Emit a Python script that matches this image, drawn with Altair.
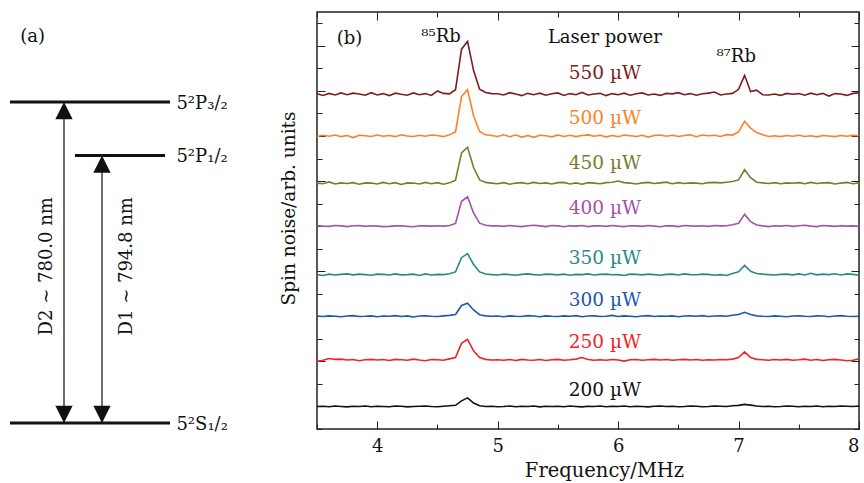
import altair as alt
import pandas as pd

# ---------------- panel (b): spin-noise spectra ----------------
freq = [3.50, 3.55, 3.60, 3.65, 3.70, 3.75, 3.80, 3.85, 3.90, 3.95,
        4.00, 4.05, 4.10, 4.15, 4.20, 4.25, 4.30, 4.35, 4.40, 4.45,
        4.50, 4.55, 4.60, 4.65, 4.70, 4.75, 4.80, 4.85, 4.90, 4.95,
        5.00, 5.05, 5.10, 5.15, 5.20, 5.25, 5.30, 5.35, 5.40, 5.45,
        5.50, 5.55, 5.60, 5.65, 5.70, 5.75, 5.80, 5.85, 5.90, 5.95,
        6.00, 6.05, 6.10, 6.15, 6.20, 6.25, 6.30, 6.35, 6.40, 6.45,
        6.50, 6.55, 6.60, 6.65, 6.70, 6.75, 6.80, 6.85, 6.90, 6.95,
        7.00, 7.05, 7.10, 7.15, 7.20, 7.25, 7.30, 7.35, 7.40, 7.45,
        7.50, 7.55, 7.60, 7.65, 7.70, 7.75, 7.80, 7.85, 7.90, 7.95,
        8.00]

powers = ["550 µW", "500 µW", "450 µW", "400 µW", "350 µW", "300 µW", "250 µW", "200 µW"]
colors = ["#7c1d22", "#ff7f2a", "#7b7b30", "#a452aa", "#2a8a80", "#2256b0", "#f02424", "#111111"]
offsets = [14.85, 13.0, 10.9, 9.0, 6.85, 5.0, 3.05, 1.0]
label_y = [15.54, 13.55, 11.55, 9.55, 7.33, 5.46, 3.61, 1.45]
label_x = 5.89

sig550 = [0.02, -0.05, 0.04, -0.03, 0.06, -0.02, 0.05, 0.01, -0.04, 0.07,
          -0.03, 0.03, -0.06, 0.05, 0.00, -0.04, 0.06, -0.02, 0.03, -0.05,
          0.15, 0.04, 0.02, 0.20, 2.00, 2.35, 1.05, 0.22, 0.08, 0.03,
          0.02, -0.03, 0.07, 0.01, -0.06, 0.04, -0.02, 0.05, -0.04, 0.02,
          0.06, -0.05, 0.03, -0.02, 0.08, -0.03, 0.01, 0.04, -0.06, 0.03,
          -0.02, 0.05, -0.04, 0.02, 0.06, -0.03, 0.01, -0.05, 0.04, 0.02,
          0.07, -0.02, 0.03, -0.04, 0.02, 0.05, 0.10, -0.03, 0.01, 0.04,
          0.22, 0.84, 0.12, 0.18, -0.02, -0.03, 0.01, -0.05, 0.04, 0.00,
          0.03, -0.04, 0.05, -0.02, 0.04, -0.08, 0.03, 0.01, -0.05, 0.04,
          0.06]
sig500 = [-0.02, 0.03, -0.01, 0.04, -0.03, 0.02, -0.07, 0.03, 0.01, -0.02,
          0.04, -0.01, 0.02, -0.03, 0.05, 0.00, -0.02, 0.03, -0.01, 0.04,
          0.02, -0.03, 0.05, 0.18, 1.75, 2.05, 0.90, 0.20, 0.05, 0.02,
          -0.02, 0.05, -0.03, 0.04, -0.05, 0.02, -0.06, 0.03, 0.01, -0.04,
          0.04, -0.02, 0.03, -0.03, 0.02, 0.05, -0.01, 0.03, -0.04, 0.02,
          -0.03, 0.04, 0.01, -0.02, 0.03, -0.05, 0.02, 0.04, -0.01, 0.03,
          -0.02, 0.02, 0.05, -0.03, 0.04, 0.01, 0.03, -0.02, 0.06, 0.04,
          0.18, 0.65, 0.35, 0.15, 0.05, -0.02, 0.01, -0.03, 0.02, -0.01,
          0.03, -0.02, 0.01, -0.04, 0.02, 0.00, -0.03, 0.02, -0.01, 0.03,
          0.01]
sig450 = [0.01, -0.02, 0.06, -0.03, 0.02, -0.01, 0.03, -0.04, 0.02, 0.01,
          -0.03, 0.04, -0.02, 0.03, -0.05, 0.02, 0.01, -0.03, 0.04, -0.02,
          0.03, -0.04, 0.02, 0.14, 1.35, 1.60, 0.70, 0.15, 0.04, 0.01,
          -0.02, 0.03, -0.04, 0.01, 0.03, -0.02, 0.04, -0.01, 0.02, -0.03,
          0.03, 0.04, -0.03, 0.02, -0.04, 0.03, 0.01, -0.02, 0.03, 0.05,
          0.10, 0.03, 0.01, -0.03, 0.02, 0.04, -0.01, 0.02, 0.05, -0.02,
          0.03, -0.01, 0.02, 0.01, -0.02, 0.03, 0.04, 0.02, 0.05, 0.08,
          0.15, 0.60, 0.25, 0.05, 0.02, -0.01, 0.03, -0.02, 0.02, 0.00,
          0.03, -0.02, 0.04, -0.01, 0.02, 0.03, -0.03, 0.01, 0.04, -0.02,
          0.02]
sig400 = [0.02, 0.00, -0.01, 0.03, 0.01, -0.02, 0.02, 0.03, -0.01, 0.02,
          0.00, -0.02, -0.01, 0.01, 0.02, -0.01, -0.03, 0.02, 0.01, 0.00,
          0.02, 0.00, 0.03, 0.12, 1.10, 1.30, 0.58, 0.13, 0.04, 0.01,
          0.02, -0.01, 0.03, 0.00, -0.02, 0.02, 0.04, 0.01, -0.02, 0.03,
          0.01, -0.03, 0.02, 0.00, 0.03, -0.02, 0.01, 0.02, -0.01, 0.03,
          0.00, -0.02, 0.02, 0.01, -0.01, 0.03, 0.00, -0.03, 0.02, 0.01,
          -0.02, 0.03, 0.01, 0.00, 0.02, -0.01, 0.03, 0.01, 0.02, 0.06,
          0.13, 0.52, 0.20, 0.05, 0.01, -0.02, 0.02, 0.00, 0.03, -0.01,
          0.02, 0.04, 0.00, -0.02, 0.03, 0.01, -0.01, 0.02, 0.00, 0.01,
          -0.01]
sig350 = [0.00, -0.04, 0.02, -0.02, 0.01, 0.03, -0.01, 0.02, 0.00, -0.03,
          0.02, 0.01, -0.02, 0.03, -0.01, 0.00, 0.02, -0.04, 0.03, -0.02,
          0.01, 0.00, 0.04, 0.12, 0.75, 0.93, 0.45, 0.12, 0.03, 0.00,
          -0.02, 0.02, 0.00, -0.03, 0.01, 0.03, 0.00, -0.02, 0.02, 0.01,
          -0.01, 0.02, -0.03, 0.01, 0.00, 0.03, -0.02, 0.01, 0.02, -0.01,
          0.00, -0.04, 0.02, 0.01, -0.01, 0.02, 0.00, -0.03, 0.01, 0.02,
          -0.02, 0.03, 0.00, -0.01, 0.02, 0.01, -0.03, 0.00, -0.04, 0.05,
          0.12, 0.41, 0.15, 0.05, 0.02, 0.00, -0.02, 0.01, 0.02, -0.01,
          0.03, -0.02, 0.06, -0.01, 0.02, 0.00, 0.04, -0.02, 0.03, 0.01,
          -0.03]
sig300 = [0.01, -0.01, 0.02, 0.00, -0.02, 0.01, 0.03, -0.01, 0.00, 0.02,
          -0.02, 0.01, 0.00, 0.03, -0.01, 0.02, -0.03, 0.01, 0.02, 0.00,
          -0.01, 0.02, 0.04, 0.08, 0.48, 0.58, 0.28, 0.07, 0.02, 0.00,
          0.01, -0.02, 0.02, 0.00, -0.01, 0.03, 0.01, -0.02, 0.02, 0.00,
          -0.01, 0.02, 0.00, 0.03, -0.02, 0.01, 0.02, -0.01, 0.00, 0.04,
          -0.01, 0.02, 0.00, -0.02, 0.01, 0.03, -0.01, 0.01, 0.00, 0.02,
          -0.02, 0.01, 0.02, 0.00, 0.03, -0.01, 0.01, 0.02, 0.00, 0.05,
          0.08, 0.18, 0.08, 0.02, 0.00, -0.01, 0.02, 0.00, -0.02, 0.01,
          0.02, 0.00, -0.01, 0.02, 0.01, -0.02, 0.01, 0.03, 0.00, -0.01,
          0.00]
sig250 = [-0.05, 0.00, 0.08, 0.04, 0.05, 0.01, 0.03, -0.02, 0.02, 0.04,
          0.01, 0.03, -0.01, 0.04, 0.02, 0.00, 0.05, 0.01, -0.02, 0.03,
          0.02, 0.00, 0.06, 0.12, 0.75, 0.93, 0.42, 0.12, 0.04, 0.01,
          0.02, 0.00, 0.03, -0.01, 0.04, 0.01, 0.00, 0.03, -0.01, 0.02,
          0.04, 0.00, 0.02, 0.05, 0.12, 0.03, 0.00, 0.02, 0.00, 0.03,
          0.01, -0.04, 0.02, 0.03, 0.00, 0.02, 0.04, 0.01, 0.03, 0.00,
          0.02, 0.04, 0.01, 0.03, 0.00, 0.02, 0.01, 0.03, 0.02, 0.05,
          0.12, 0.37, 0.12, 0.04, 0.02, 0.00, 0.03, 0.01, 0.04, 0.00,
          0.02, 0.05, 0.00, 0.03, -0.01, 0.02, 0.04, 0.01, -0.02, 0.00,
          0.06]
sig200 = [0.00, 0.01, -0.01, 0.02, 0.00, -0.02, 0.01, 0.00, 0.02, -0.01,
          0.01, 0.00, -0.01, 0.02, 0.01, -0.02, 0.00, 0.01, 0.02, 0.00,
          -0.01, 0.01, 0.03, 0.05, 0.25, 0.38, 0.15, 0.03, 0.00, 0.01,
          -0.01, 0.00, 0.02, -0.01, 0.01, 0.00, 0.02, -0.02, 0.01, 0.00,
          0.01, -0.01, 0.02, 0.00, -0.02, 0.01, 0.00, 0.02, -0.01, 0.01,
          0.00, 0.02, -0.01, 0.01, 0.00, -0.02, 0.01, 0.02, 0.00, 0.01,
          -0.01, 0.00, 0.02, 0.01, -0.01, 0.00, 0.02, 0.01, 0.00, 0.03,
          0.05, 0.09, 0.06, 0.02, 0.00, 0.01, -0.01, 0.00, 0.02, 0.01,
          -0.01, 0.01, 0.00, 0.02, -0.01, 0.01, 0.00, 0.02, 0.01, 0.00,
          0.02]
signals = [sig550, sig500, sig450, sig400, sig350, sig300, sig250, sig200]

annot_text = ["(b)", "⁸⁵Rb", "⁸⁷Rb", "Laser power"]
annot_x = [3.77, 4.53, 6.98, 5.89]
annot_y = [17.08, 17.17, 16.28, 17.14]

x_major = [4, 5, 6, 7, 8]
x_minor = [3.5, 4.5, 5.5, 6.5, 7.5]
y_major = [1, 3, 5, 7, 9, 11, 13, 15, 17]
y_minor = [0, 2, 4, 6, 8, 10, 12, 14, 16, 18]

# ---------------- panel (a): level diagram ----------------
level_names = ["5²P₃/₂", "5²P₁/₂", "5²S₁/₂"]
level_energy = [6.0, 5.0, 0.0]
level_x0 = [0.0, 4.06, 0.0]
level_x1 = [10.0, 9.69, 10.0]
level_label_x = [10.4, 10.4, 10.4]

trans_names = ["D2  ∼  780.0 nm", "D1  ∼  794.8 nm"]
trans_x = [3.375, 5.75]
trans_low = [0.0, 0.0]
trans_high = [6.0, 5.0]
trans_text_x = [2.31, 7.29]
trans_text_y = [2.93, 2.93]

FONT = "DejaVu Serif"

# ---------------- build tables ----------------
rows = []
for p, off, sig in zip(powers, offsets, signals):
    assert len(sig) == len(freq)
    for f, v in zip(freq, sig):
        rows.append({"freq": f, "amp": off + v, "power": p})
spec_df = pd.DataFrame(rows)
lab_df = pd.DataFrame({"power": powers, "x": [label_x] * len(powers), "y": label_y})
ann_df = pd.DataFrame({"t": annot_text, "x": annot_x, "y": annot_y})

xs = alt.Scale(domain=[3.5, 8.0], nice=False, zero=False)
ys = alt.Scale(domain=[0, 18.5], nice=False, zero=False)
cs = alt.Scale(domain=powers, range=colors)


def ax(orient, values, size, **kw):
    return alt.Axis(orient=orient, values=values, tickSize=size, offset=-size,
                    domain=False, grid=False, ticks=True, tickColor="#222",
                    tickWidth=1, **kw)


lines = alt.Chart(spec_df).mark_line(strokeWidth=1.6).encode(
    x=alt.X("freq:Q", scale=xs, title="Frequency/MHz",
            axis=ax("bottom", x_major, 8, labels=True, format="d",
                    labelFontSize=18, labelPadding=8, labelColor="#111",
                    titleFontSize=19.5, titleFontWeight="normal", titleColor="#111",
                    titlePadding=6, titleX=287, labelFont=FONT, titleFont=FONT)),
    y=alt.Y("amp:Q", scale=ys, title="Spin noise/arb. units",
            axis=ax("left", y_major, 8, labels=False,
                    titleFontSize=18.5, titleFontWeight="normal", titleColor="#111",
                    titlePadding=18, titleY=196, titleFont=FONT)),
    color=alt.Color("power:N", scale=cs, legend=None),
    detail="power:N",
)

plabels = alt.Chart(lab_df).mark_text(font=FONT, fontSize=18.5, baseline="alphabetic").encode(
    x=alt.X("x:Q", scale=xs, title=None, axis=ax("bottom", x_minor, 5, labels=False)),
    y=alt.Y("y:Q", scale=ys, title=None, axis=ax("left", y_minor, 5, labels=False)),
    text="power:N",
    color=alt.Color("power:N", scale=cs, legend=None),
)

annots = alt.Chart(ann_df).mark_text(font=FONT, fontSize=18, baseline="alphabetic", color="#111").encode(
    x=alt.X("x:Q", scale=xs, title=None, axis=ax("top", x_major, 8, labels=False)),
    y=alt.Y("y:Q", scale=ys, title=None, axis=ax("right", y_major, 8, labels=False)),
    text="t:N",
)

ghost = alt.Chart(ann_df).mark_point(opacity=0).encode(
    x=alt.X("x:Q", scale=xs, title=None, axis=ax("top", x_minor, 5, labels=False)),
    y=alt.Y("y:Q", scale=ys, title=None, axis=ax("right", y_minor, 5, labels=False)),
)

panel_b = alt.layer(lines, plabels, annots, ghost).resolve_axis(
    x="independent", y="independent"
).properties(width=542, height=417,
             view=alt.ViewBackground(stroke="#222", strokeWidth=1.5))

# ---------------- panel (a) ----------------
axs = alt.Scale(domain=[-0.625, 15.0], nice=False, zero=False)
ays = alt.Scale(domain=[-0.112, 7.682], nice=False, zero=False)

lev_df = pd.DataFrame({"name": level_names, "e": level_energy, "x0": level_x0,
                       "x1": level_x1, "lx": level_label_x})
tr_df = pd.DataFrame({"name": trans_names, "x": trans_x, "lo": trans_low, "hi": trans_high,
                      "tx": trans_text_x, "ty": trans_text_y})
head_rows = []
for x, lo, hi in zip(trans_x, trans_low, trans_high):
    head_rows.append({"x": x, "e": hi, "dir": "up"})
    head_rows.append({"x": x, "e": lo, "dir": "down"})
head_df = pd.DataFrame(head_rows)
tag_df = pd.DataFrame({"t": ["(a)"], "x": [1.41], "y": [7.12]})

levels = alt.Chart(lev_df).mark_rule(strokeWidth=3, color="#111").encode(
    x=alt.X("x0:Q", scale=axs, axis=None), x2="x1:Q",
    y=alt.Y("e:Q", scale=ays, axis=None),
)
level_text = alt.Chart(lev_df).mark_text(font=FONT, fontSize=18, align="left",
                                         baseline="middle", dy=2, color="#111").encode(
    x=alt.X("lx:Q", scale=axs, axis=None), y=alt.Y("e:Q", scale=ays, axis=None), text="name:N",
)
shafts = alt.Chart(tr_df).mark_rule(strokeWidth=1.3, color="#222").encode(
    x=alt.X("x:Q", scale=axs, axis=None),
    y=alt.Y("lo:Q", scale=ays, axis=None), y2="hi:Q",
)
heads = alt.Chart(head_df).mark_point(filled=True, opacity=1, size=300, color="#111").encode(
    x=alt.X("x:Q", scale=axs, axis=None),
    y=alt.Y("e:Q", scale=ays, axis=None),
    shape=alt.Shape("dir:N", scale=alt.Scale(domain=["up", "down"],
                                             range=["M0,0L-1,2L1,2Z", "M0,0L-1,-2L1,-2Z"]),
                    legend=None),
)
trans_text = alt.Chart(tr_df).mark_text(font=FONT, fontSize=18, angle=270, align="center",
                                        baseline="middle", color="#111").encode(
    x=alt.X("tx:Q", scale=axs, axis=None), y=alt.Y("ty:Q", scale=ays, axis=None), text="name:N",
)
tag = alt.Chart(tag_df).mark_text(font=FONT, fontSize=18, baseline="alphabetic", color="#111").encode(
    x=alt.X("x:Q", scale=axs, axis=None), y=alt.Y("y:Q", scale=ays, axis=None), text="t:N",
)

panel_a = alt.layer(levels, shafts, heads, level_text, trans_text, tag).properties(
    width=250, height=417, view=alt.ViewBackground(strokeOpacity=0))

chart = alt.hconcat(panel_a, panel_b, spacing=28).properties(
    padding={"left": 0, "top": 10, "right": 0, "bottom": 0}
).configure(font=FONT).configure_view(stroke="transparent")

chart.save("out.html", embed_options={"renderer": "svg", "actions": False})
